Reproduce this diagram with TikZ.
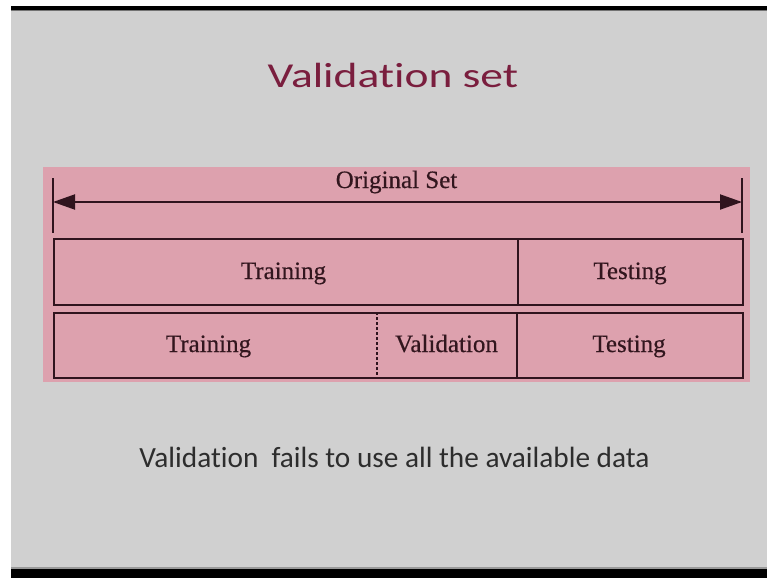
\documentclass[tikz,border=0pt]{standalone}
\usepackage{fontspec}
\setmainfont{Liberation Serif}
\newfontfamily\cellfont[FakeBold=0.5]{Liberation Serif}
\newfontfamily\calib[Ligatures=NoCommon]{Carlito}
\usetikzlibrary{arrows.meta}
\definecolor{bggray}{RGB}{208,208,208}
\definecolor{panelpink}{RGB}{221,161,174}
\definecolor{inkline}{RGB}{48,20,30}
\definecolor{titlered}{RGB}{122,30,62}
\definecolor{bodytext}{RGB}{45,45,45}
\definecolor{cellink}{RGB}{50,22,30}
\begin{document}
\begin{tikzpicture}[x=1pt,y=-1pt,
  cellbox/.style={draw=inkline, line width=2pt, fill=panelpink, inner sep=0pt, anchor=north west},
  celltext/.style={font=\cellfont\fontsize{25}{30}\selectfont, text=cellink, anchor=base, inner sep=0pt},
  divline/.style={draw=inkline, line width=2pt},
  dotline/.style={draw=inkline, line width=1.5pt, dash pattern=on 2.5pt off 2.5pt},
  spanarrow/.style={draw=inkline, line width=2pt, {Triangle[length=22pt,width=15pt]}-{Triangle[length=22pt,width=15pt]}}]
\useasboundingbox (0,0) rectangle (767,578);
\fill[white] (0,0) rectangle (767,578);
\fill[bggray] (11,10) rectangle (767,569);
\fill[black] (11,6) rectangle (767,10);
\fill[black!55] (11,10) rectangle (767,11.5);
\fill[black!40] (11,567) rectangle (767,569);
\fill[black] (11,569) rectangle (767,578);
% pink panel
\fill[panelpink] (43,167) rectangle (750,382);
% title
\node[font=\calib\fontsize{35}{40}\selectfont, text=titlered, anchor=base, inner sep=0pt] (title) at (393,87) {\scalebox{1.3}[1]{Validation set}};
% span arrow
\coordinate (lt) at (53,178);
\coordinate (lb) at (53,233);
\coordinate (rt) at (742,178);
\coordinate (rb) at (742,233);
\coordinate (la) at (53,202);
\coordinate (ra) at (742,202);
\draw[divline] (lt) -- (lb);
\draw[divline] (rt) -- (rb);
\draw[spanarrow] (la) -- (ra);
\node[celltext] (orig) at (396.5,188) {Original Set};
% row 1
\node[cellbox, minimum width=464pt, minimum height=66pt] (r1train) at (53,238) {};
\node[cellbox, minimum width=225pt, minimum height=66pt] (r1test) at (517,238) {};
\node[celltext] (t1) at (283.5,279) {Training};
\node[celltext] (t2) at (630,279) {Testing};
% row 2
\node[cellbox, minimum width=689pt, minimum height=65pt] (r2) at (53,312) {};
\coordinate (d1t) at (377,312);
\coordinate (d1b) at (377,377);
\coordinate (d2t) at (517,312);
\coordinate (d2b) at (517,377);
\draw[dotline] (d1t) -- (d1b);
\draw[divline] (d2t) -- (d2b);
\node[celltext] (t3) at (208.5,352) {Training};
\node[celltext] (t4) at (446.5,352) {Validation};
\node[celltext] (t5) at (629,352) {Testing};
% bottom remark
\node[font=\calib\fontsize{29.3}{34}\selectfont, text=bodytext, anchor=base, inner sep=0pt] (remark) at (394.5,467) {Validation\hspace{0.45em}fails to use all the available data};
\end{tikzpicture}
\end{document}
